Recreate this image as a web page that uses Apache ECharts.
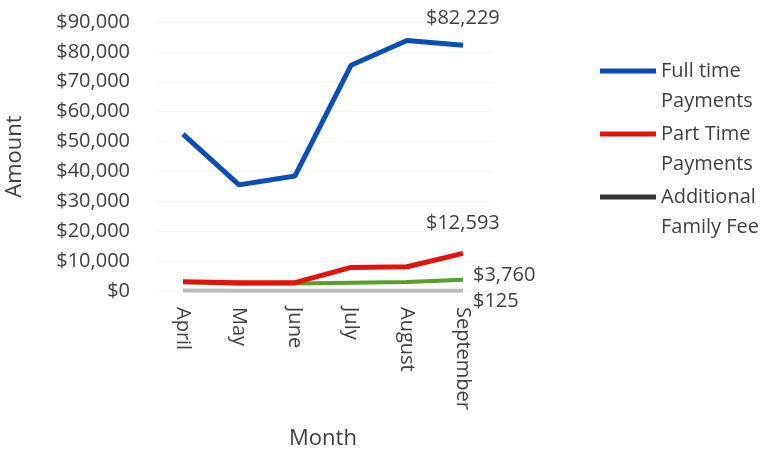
<!DOCTYPE html>
<html>
<head>
<meta charset="utf-8">
<script src="https://cdn.jsdelivr.net/npm/echarts@6/dist/echarts.min.js"></script>
<style>
  html, body { margin: 0; padding: 0; background: #fff; }
  #chart { width: 766px; height: 457px; }
</style>
</head>
<body>
<div id="chart"></div>
<script>
// 数据
var months = ['April', 'May', 'June', 'July', 'August', 'September'];
var fullTime = [52500, 35500, 38500, 75500, 83800, 82229];
var partTime = [3100, 2800, 2800, 7900, 8100, 12593];
var otherFee = [3000, 2400, 2500, 2800, 3000, 3760];
var additionalFee = [200, 125, 125, 125, 125, 125];

var textColor = '#404040';
var font = 'Open Sans';
// 图例线条放在第一行文字旁边
var legendIcon = 'path://M0,0L56,0L56,5L0,5Z M0,34.9L0.1,34.9L0.1,35Z';

function endLabel(dx, dy) {
    return {
        show: true,
        offset: [dx, dy],
        fontFamily: font,
        fontSize: 20,
        color: textColor,
        formatter: function (p) {
            return '$' + p.value.toLocaleString('en-US');
        }
    };
}

var myChart = echarts.init(document.getElementById('chart'));
var option = {
    animation: false,
    grid: { left: 155, right: 275, top: 22, bottom: 166 },
    legend: {
        orient: 'vertical',
        left: 600,
        top: 56,
        padding: 0,
        itemWidth: 56,
        itemHeight: 35,
        itemGap: 3,
        icon: legendIcon,
        textStyle: { color: textColor, fontFamily: font, fontSize: 20, lineHeight: 30 },
        data: ['Full time\nPayments', 'Part Time\nPayments', 'Additional\nFamily Fee']
    },
    xAxis: {
        type: 'category',
        data: months,
        boundaryGap: true,
        name: 'Month',
        nameLocation: 'middle',
        nameGap: 137,
        nameTextStyle: { color: textColor, fontFamily: font, fontSize: 22 },
        axisLine: { show: false },
        axisTick: { show: false },
        axisLabel: { rotate: -90, color: textColor, fontFamily: font, fontSize: 20, margin: 16 }
    },
    yAxis: {
        type: 'value',
        min: 0,
        max: 90000,
        interval: 10000,
        name: 'Amount',
        nameLocation: 'middle',
        nameGap: 129,
        nameTextStyle: { color: textColor, fontFamily: font, fontSize: 22 },
        axisLine: { show: false },
        axisTick: { show: false },
        splitLine: { lineStyle: { color: '#f3f3f3' } },
        axisLabel: {
            color: textColor, fontFamily: font, fontSize: 20, margin: 25,
            formatter: function (v) { return '$' + v.toLocaleString('en-US'); }
        }
    },
    series: [
        {
            name: 'Full time\nPayments', type: 'line', data: fullTime,
            symbol: 'none', z: 4,
            itemStyle: { color: '#0a4fb8' },
            lineStyle: { width: 5, color: '#0a4fb8' },
            endLabel: endLabel(-45, -27)
        },
        {
            name: 'Part Time\nPayments', type: 'line', data: partTime,
            symbol: 'none', z: 3,
            itemStyle: { color: '#e3120b' },
            lineStyle: { width: 5, color: '#e3120b' },
            endLabel: endLabel(-45, -30)
        },
        {
            name: 'Other Fee', type: 'line', data: otherFee,
            symbol: 'none', z: 2,
            itemStyle: { color: '#5a9e2a' },
            lineStyle: { width: 4, color: '#5a9e2a' },
            endLabel: endLabel(2, -4)
        },
        {
            name: 'Additional\nFamily Fee', type: 'line', data: additionalFee,
            symbol: 'none', z: 1,
            itemStyle: { color: '#333333' },
            lineStyle: { width: 4, color: '#bdbdbd' },
            endLabel: endLabel(2, 11)
        }
    ]
};
myChart.setOption(option);
</script>
</body>
</html>
